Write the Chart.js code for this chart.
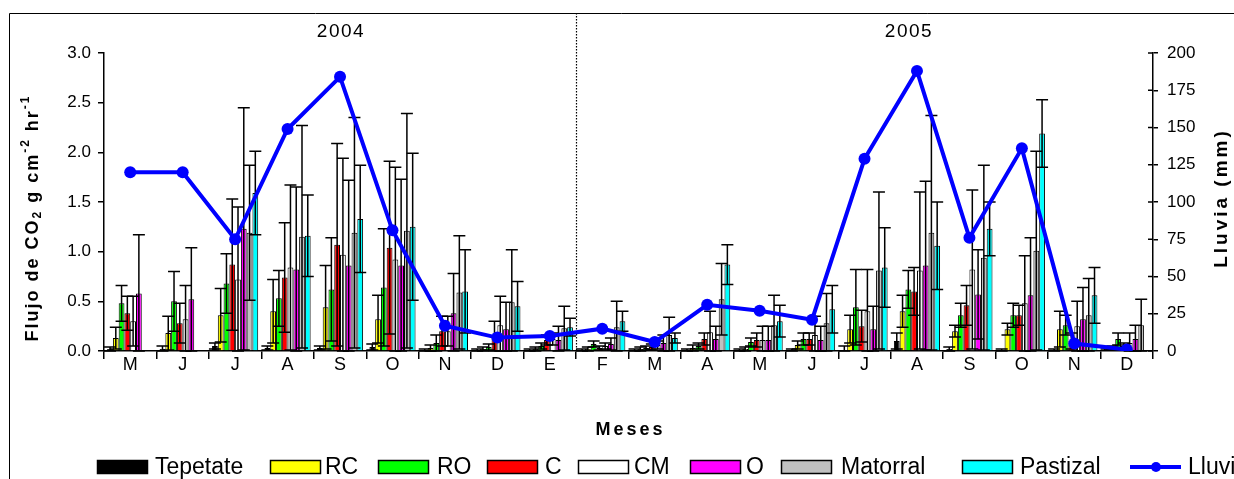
<!DOCTYPE html>
<html lang="es">
<head>
    <meta charset="UTF-8">
    <title>Flujo de CO2 y lluvia</title>
    <style>
        body { margin: 0; background: #fff; }
        canvas { display: block; }
    </style>
</head>
<body>
    <canvas id="myChart" width="1234" height="479"></canvas>

    <script src="https://cdn.jsdelivr.net/npm/chart.js"></script>

    <script>
        // meses de mayo 2004 a diciembre 2005
        const meses = ['M', 'J', 'J', 'A', 'S', 'O', 'N', 'D', 'E', 'F', 'M', 'A', 'M', 'J', 'J', 'A', 'S', 'O', 'N', 'D'];

        // flujo de CO2 (g cm-2 hr-1) por uso de suelo, con su desviacion
        const tepetate    = [0.02, 0.02, 0.05, 0.03, 0.03, 0.04, 0.01, 0.01, 0.01, 0.01, 0.01, 0.01, 0.01, 0.01, 0.01, 0.10, 0.02, 0.01, 0.01, 0.02];
        const tepetateErr = [0.02, 0.03, 0.03, 0.02, 0.02, 0.03, 0.01, 0.01, 0.01, 0.01, 0.01, 0.01, 0.01, 0.01, 0.04, 0.08, 0.02, 0.01, 0.01, 0.01];

        const rc    = [0.13, 0.18, 0.36, 0.40, 0.44, 0.32, 0.03, 0.02, 0.02, 0.02, 0.02, 0.03, 0.02, 0.06, 0.22, 0.40, 0.20, 0.22, 0.22, 0.03];
        const rcErr = [0.11, 0.17, 0.27, 0.32, 0.42, 0.24, 0.03, 0.02, 0.02, 0.02, 0.02, 0.03, 0.02, 0.04, 0.14, 0.16, 0.06, 0.06, 0.18, 0.02];

        const ro    = [0.48, 0.50, 0.68, 0.53, 0.62, 0.64, 0.08, 0.04, 0.05, 0.07, 0.03, 0.05, 0.09, 0.12, 0.44, 0.62, 0.36, 0.36, 0.26, 0.12];
        const roErr = [0.18, 0.30, 0.30, 0.28, 0.52, 0.59, 0.08, 0.03, 0.03, 0.03, 0.02, 0.03, 0.04, 0.06, 0.38, 0.19, 0.12, 0.12, 0.10, 0.06];

        const c    = [0.38, 0.28, 0.87, 0.74, 1.07, 1.04, 0.20, 0.13, 0.11, 0.03, 0.04, 0.12, 0.11, 0.12, 0.25, 0.60, 0.46, 0.36, 0.10, 0.05];
        const cErr = [0.17, 0.20, 0.66, 0.55, 1.02, 0.87, 0.15, 0.17, 0.05, 0.02, 0.03, 0.06, 0.07, 0.06, 0.16, 0.24, 0.20, 0.10, 0.08, 0.03];

        const cm    = [0.30, 0.32, 0.72, 0.84, 0.97, 0.92, 0.20, 0.26, 0.12, 0.05, 0.06, 0.19, 0.11, 0.16, 0.40, 0.81, 0.82, 0.48, 0.25, 0.08];
        const cmErr = [0.25, 0.34, 0.73, 0.83, 0.97, 0.93, 0.15, 0.29, 0.06, 0.03, 0.04, 0.21, 0.14, 0.19, 0.42, 0.79, 0.80, 0.48, 0.25, 0.10];

        const o    = [0.58, 0.52, 1.23, 0.82, 0.86, 0.86, 0.38, 0.22, 0.11, 0.07, 0.08, 0.12, 0.11, 0.11, 0.22, 0.86, 0.57, 0.56, 0.32, 0.12];
        const oErr = [0.59, 0.52, 1.22, 0.83, 0.86, 0.87, 0.40, 0.27, 0.14, 0.06, 0.08, 0.13, 0.14, 0.14, 0.23, 0.85, 0.45, 0.58, 0.32, 0.14];

        const matorral    = [null, null, 1.19, 1.15, 1.19, 1.21, 0.59, 0.49, 0.23, 0.24, 0.16, 0.52, 0.26, 0.28, 0.81, 1.19, 0.94, 1.01, 0.36, 0.26];
        const matorralErr = [0, 0, 0.68, 1.12, 1.16, 1.18, 0.57, 0.53, 0.22, 0.26, 0.18, 0.36, 0.30, 0.30, 0.79, 1.18, 0.93, 1.00, 0.37, 0.26];

        const pastizal    = [null, null, 1.59, 1.16, 1.33, 1.25, 0.60, 0.45, 0.24, 0.30, 0.13, 0.87, 0.30, 0.42, 0.84, 1.06, 1.23, 2.19, 0.56, null];
        const pastizalErr = [0, 0, 0.42, 0.41, 0.54, 0.74, 0.42, 0.25, 0.09, 0.10, 0.05, 0.20, 0.16, 0.24, 0.40, 0.44, 0.27, 0.34, 0.28, 0];

        // precipitacion mensual (mm)
        const lluvia = [120, 120, 75, 149, 184, 81, 17, 9, 10, 15, 6, 31, 27, 21, 129, 188, 76, 136, 5, 1];

        const flujoTicks = [0, 0.5, 1, 1.5, 2, 2.5, 3];
        const lluviaTicks = [0, 25, 50, 75, 100, 125, 150, 175, 200];

        const FONT = "'Liberation Sans', Arial, sans-serif";

        function barra(label, data, errors, color) {
            return {
                type: 'bar',
                label: label,
                data: data,
                errors: errors,
                backgroundColor: color,
                borderColor: '#000',
                borderWidth: 1,
                yAxisID: 'y',
                order: 1,
            };
        }

        let datasets = [
            barra('Tepetate', tepetate, tepetateErr, '#000000'),
            barra('RC', rc, rcErr, '#ffff00'),
            barra('RO', ro, roErr, '#00ff00'),
            barra('C', c, cErr, '#ff0000'),
            barra('CM', cm, cmErr, '#ffffff'),
            barra('O', o, oErr, '#ff00ff'),
            barra('Matorral', matorral, matorralErr, '#c0c0c0'),
            barra('Pastizal', pastizal, pastizalErr, '#00ffff'),
            {
                type: 'line',
                label: 'Lluvia',
                data: lluvia,
                borderColor: '#0000ff',
                backgroundColor: '#0000ff',
                borderWidth: 4,
                pointRadius: 6,
                pointBorderWidth: 0,
                pointBackgroundColor: '#0000ff',
                tension: 0,
                yAxisID: 'y2',
                order: 0,
            },
        ];

        // barras de error (+/- desviacion), se pintan antes de la linea de lluvia
        const errorBars = {
            id: 'errorBars',
            beforeDatasetDraw(chart, args) {
                if (args.meta.type !== 'line') return;
                const ctx = chart.ctx;
                const y = chart.scales.y;
                ctx.save();
                ctx.strokeStyle = '#000';
                ctx.lineWidth = 1.5;
                chart.data.datasets.forEach((ds, i) => {
                    if (!ds.errors) return;
                    const meta = chart.getDatasetMeta(i);
                    meta.data.forEach((bar, j) => {
                        const v = ds.data[j];
                        const e = ds.errors[j];
                        if (v == null || !e) return;
                        const top = y.getPixelForValue(v + e);
                        const bot = y.getPixelForValue(Math.max(0, v - e));
                        ctx.beginPath();
                        ctx.moveTo(bar.x, top);
                        ctx.lineTo(bar.x, bot);
                        ctx.moveTo(bar.x - 6, top);
                        ctx.lineTo(bar.x + 6, top);
                        ctx.moveTo(bar.x - 6, bot);
                        ctx.lineTo(bar.x + 6, bot);
                        ctx.stroke();
                    });
                });
                ctx.restore();
            }
        };

        // marco, separador de anios, titulos y leyenda
        const decoracion = {
            id: 'decoracion',
            beforeDatasetsDraw(chart) {
                const ctx = chart.ctx;
                const x = chart.scales.x;
                const area = chart.chartArea;
                const sep = (x.getPixelForValue(8) + x.getPixelForValue(9)) / 2;
                ctx.save();
                ctx.strokeStyle = '#000';
                ctx.lineWidth = 1.2;
                ctx.setLineDash([1.5, 1.5]);
                ctx.beginPath();
                ctx.moveTo(Math.round(sep) + 0.5, 13);
                ctx.lineTo(Math.round(sep) + 0.5, area.bottom);
                ctx.stroke();
                ctx.restore();
            },
            afterDraw(chart) {
                const ctx = chart.ctx;
                const area = chart.chartArea;
                const y2 = chart.scales.y2;
                ctx.save();

                // marco exterior
                ctx.strokeStyle = '#000';
                ctx.lineWidth = 1;
                ctx.beginPath();
                ctx.moveTo(9.5, 479);
                ctx.lineTo(9.5, 13.5);
                ctx.lineTo(1234, 13.5);
                ctx.stroke();

                // marcas hacia dentro del eje derecho
                ctx.lineWidth = 1.5;
                lluviaTicks.forEach(t => {
                    const py = y2.getPixelForValue(t);
                    ctx.beginPath();
                    ctx.moveTo(area.right - 5, py);
                    ctx.lineTo(area.right, py);
                    ctx.stroke();
                });

                ctx.fillStyle = '#000';
                ctx.textBaseline = 'middle';
                ctx.textAlign = 'center';
                ctx.font = '19px ' + FONT;
                ctx.letterSpacing = '1.5px';
                ctx.fillText('2004', 341, 32);
                ctx.fillText('2005', 909, 32);

                ctx.font = 'bold 18px ' + FONT;
                ctx.letterSpacing = '3px';
                ctx.fillText('Meses', (area.left + area.right) / 2 + 2, 430);

                // titulo eje derecho
                ctx.save();
                ctx.translate(1222, 198);
                ctx.rotate(-Math.PI / 2);
                ctx.font = 'bold 19px ' + FONT;
                ctx.letterSpacing = '3px';
                ctx.fillText('Lluvia (mm)', 0, 0);
                ctx.restore();

                // titulo eje izquierdo con subindice y superindices
                const partes = [
                    { t: 'Flujo de CO', s: 18, dy: 0 },
                    { t: '2', s: 12, dy: 5 },
                    { t: ' g cm', s: 18, dy: 0 },
                    { t: '-2', s: 12, dy: -7 },
                    { t: ' hr', s: 18, dy: 0 },
                    { t: '-1', s: 12, dy: -7 },
                ];
                ctx.letterSpacing = '2px';
                let total = 0;
                partes.forEach(p => {
                    ctx.font = 'bold ' + p.s + 'px ' + FONT;
                    p.w = ctx.measureText(p.t).width;
                    total += p.w;
                });
                ctx.save();
                ctx.translate(33, 218);
                ctx.rotate(-Math.PI / 2);
                ctx.textAlign = 'left';
                let px = -total / 2;
                partes.forEach(p => {
                    ctx.font = 'bold ' + p.s + 'px ' + FONT;
                    ctx.fillText(p.t, px, p.dy);
                    px += p.w;
                });
                ctx.restore();

                // leyenda
                const items = [
                    { box: 97, text: 155 },
                    { box: 270, text: 325 },
                    { box: 378, text: 437 },
                    { box: 487, text: 545 },
                    { box: 578, text: 634 },
                    { box: 690, text: 746 },
                    { box: 781, text: 841 },
                    { box: 962, text: 1020 },
                    { box: 1130, text: 1188 },
                ];
                const ly = 467;
                ctx.font = '23px ' + FONT;
                ctx.letterSpacing = '0px';
                ctx.textAlign = 'left';
                chart.data.datasets.forEach((ds, i) => {
                    const it = items[i];
                    if (ds.type === 'line') {
                        ctx.strokeStyle = ds.borderColor;
                        ctx.lineWidth = 4;
                        ctx.beginPath();
                        ctx.moveTo(it.box, ly);
                        ctx.lineTo(it.box + 51, ly);
                        ctx.stroke();
                        ctx.fillStyle = ds.borderColor;
                        ctx.beginPath();
                        ctx.arc(it.box + 26, ly, 5, 0, Math.PI * 2);
                        ctx.fill();
                    } else {
                        ctx.fillStyle = ds.backgroundColor;
                        ctx.fillRect(it.box, ly - 7, 51, 14);
                        ctx.strokeStyle = '#000';
                        ctx.lineWidth = 1.5;
                        ctx.strokeRect(it.box + 0.5, ly - 6.5, 50, 13);
                    }
                    ctx.fillStyle = '#000';
                    ctx.fillText(ds.label, it.text, ly + 1);
                });

                ctx.restore();
            }
        };

        const ctx = document.getElementById('myChart');

        let options = {
            responsive: false,
            animation: false,
            devicePixelRatio: 1,
            layout: {
                padding: { top: 53, left: 0, right: 0, bottom: 0 }
            },
            plugins: {
                legend: { display: false },
                tooltip: { enabled: false },
            },
            datasets: {
                bar: { categoryPercentage: 0.88, barPercentage: 1.0 }
            },
            scales: {
                x: {
                    grid: { display: true, drawOnChartArea: false, tickLength: 8, color: '#000', lineWidth: 1.5, offset: true },
                    border: { color: '#000', width: 1.5 },
                    ticks: { color: '#000', font: { family: FONT, size: 18 }, padding: -5, maxRotation: 0, autoSkip: false },
                    afterFit(s) { s.height = 128; },
                },
                y: {
                    position: 'left',
                    min: 0,
                    max: 3,
                    afterBuildTicks(s) { s.ticks = flujoTicks.map(v => ({ value: v })); },
                    ticks: { color: '#000', font: { family: FONT, size: 17 }, padding: 7, callback: v => Number(v).toFixed(1) },
                    grid: { display: true, drawOnChartArea: false, tickLength: 6, color: '#000', lineWidth: 1.5 },
                    border: { color: '#000', width: 1.5 },
                    afterFit(s) { s.width = 104; },
                },
                y2: {
                    position: 'right',
                    min: 0,
                    max: 200,
                    afterBuildTicks(s) { s.ticks = lluviaTicks.map(v => ({ value: v })); },
                    ticks: { color: '#000', font: { family: FONT, size: 17 }, padding: 9 },
                    grid: { display: true, drawOnChartArea: false, tickLength: 5, color: '#000', lineWidth: 1.5 },
                    border: { color: '#000', width: 1.5 },
                    afterFit(s) { s.width = 81; },
                },
            },
        };

        let chart = new Chart(ctx, {
            type: 'bar',
            data: {
                labels: meses,
                datasets: datasets,
            },
            options: options,
            plugins: [errorBars, decoracion],
        });
    </script>
</body>
</html>
